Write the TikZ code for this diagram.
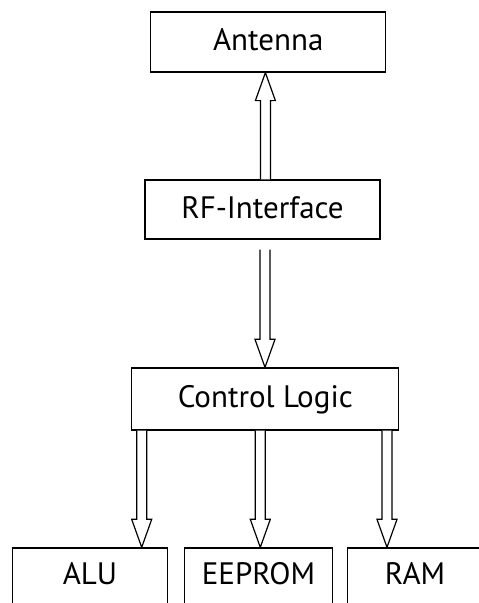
\documentclass[tikz,border=0pt]{standalone}
\usepackage{fontspec}
\setmainfont{PT Sans}
\usetikzlibrary{calc}
\tikzset{
  blk/.style={draw=black, line width=1.3pt, rectangle, inner sep=0pt,
    font=\fontsize{31}{36}\selectfont, text height=17.4pt, text depth=0pt},
  fatstyle/.style={draw=black, line width=1.2pt, fill=white, line join=miter}
}
\newcommand\fatarr[3]{%
  \draw[fatstyle] let \p1=(#2), \p2=(#3), \n1={sign(\y2-\y1)} in
    ({#1-5pt},\y1) -- ({#1-5pt},{\y2-\n1*28pt}) -- ({#1-10pt},{\y2-\n1*28pt})
    -- (#1,\y2) -- ({#1+10pt},{\y2-\n1*28pt}) -- ({#1+5pt},{\y2-\n1*28pt})
    -- ({#1+5pt},\y1);}
\begin{document}
\begin{tikzpicture}[x=1pt,y=1pt]
\useasboundingbox[fill=white] (0,0) rectangle (479,603);
\node[blk, minimum width=235pt, minimum height=60pt] (ant) at (268.2,561) {Antenna};
\node[blk, minimum width=235pt, minimum height=59pt] (rf) at (262.5,393.5) {RF-Interface};
\node[blk, minimum width=267pt, minimum height=62pt] (cl) at (265.3,204) {Control Logic};
\node[blk, minimum width=154.6pt, minimum height=56pt] (alu) at (90,27) {ALU};
\node[blk, minimum width=148.4pt, minimum height=56pt] (ee) at (258.5,27) {EEPROM};
\node[blk, minimum width=135.7pt, minimum height=56pt] (ram) at (415,27) {RAM};
\fatarr{265.4pt}{rf.north}{ant.south}
\fatarr{265pt}{$(rf.south)+(0,-10)$}{cl.north}
\fatarr{141.7pt}{cl.south}{alu.north}
\fatarr{260.3pt}{cl.south}{ee.north}
\fatarr{387pt}{cl.south}{ram.north}
\end{tikzpicture}
\end{document}
